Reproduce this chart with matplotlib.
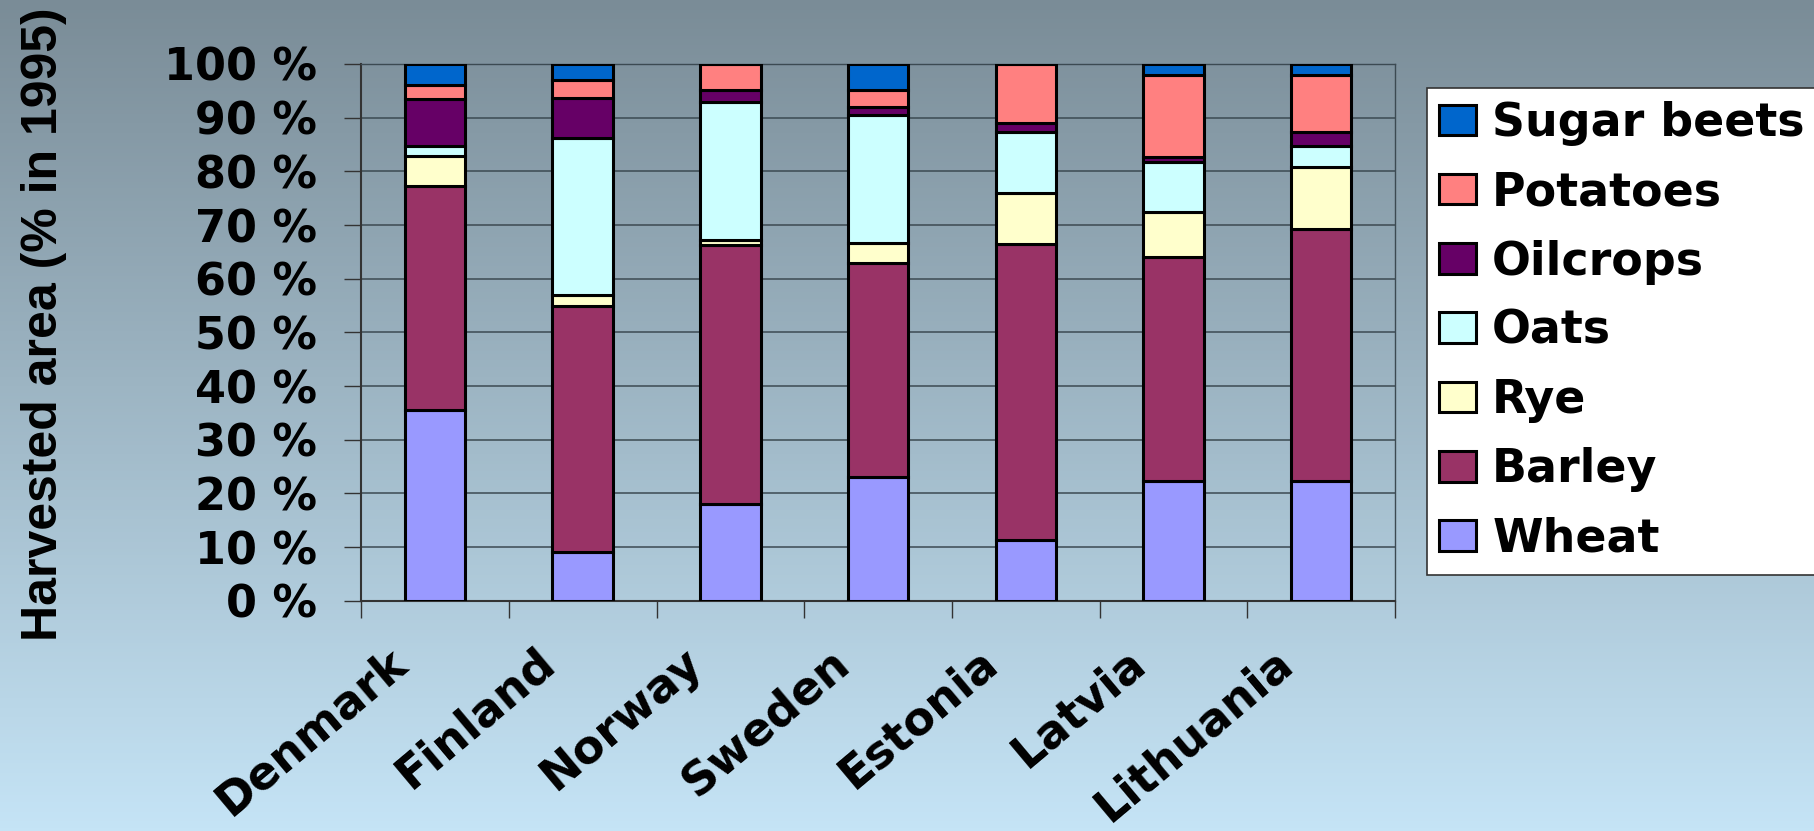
import numpy as np
import matplotlib.pyplot as plt
import matplotlib.transforms as mtransforms

# harvested area shares (%) per country, 1995
countries = ['Denmark', 'Finland', 'Norway', 'Sweden', 'Estonia', 'Latvia', 'Lithuania']
wheat = [35.6, 9.0, 18.1, 23.0, 11.3, 22.4, 22.4]
barley = [41.6, 45.9, 48.1, 40.0, 55.1, 41.7, 46.8]
rye = [5.6, 2.0, 1.0, 3.6, 9.5, 8.3, 11.6]
oats = [1.9, 29.3, 25.7, 23.9, 11.4, 9.3, 4.0]
oilcrops = [8.8, 7.5, 2.2, 1.4, 1.8, 0.9, 2.5]
potatoes = [2.6, 3.4, 4.9, 3.2, 10.9, 15.4, 10.6]
sugar_beets = [3.9, 2.9, 0.0, 4.9, 0.0, 2.0, 2.1]

crops = ['Wheat', 'Barley', 'Rye', 'Oats', 'Oilcrops', 'Potatoes', 'Sugar beets']
series = [wheat, barley, rye, oats, oilcrops, potatoes, sugar_beets]
colors = ['#9999FF', '#993366', '#FFFFCC', '#CCFFFF', '#660066', '#FF8080', '#0066CC']

fig = plt.figure(figsize=(18.15, 8.31), dpi=100)

# gradient backdrop
bg = fig.add_axes([0, 0, 1, 1], zorder=-10)
grad = np.linspace(0, 1, 256)[:, None]
top = np.array([0x7a, 0x8c, 0x97]) / 255
bottom = np.array([0xc5, 0xe4, 0xf6]) / 255
img = top[None, None, :] * (1 - grad[:, :, None]) + bottom[None, None, :] * grad[:, :, None]
bg.imshow(img, aspect='auto', extent=[0, 1, 0, 1])
bg.axis('off')

ax = fig.add_axes([0.199, 0.277, 0.5696, 0.646])
ax.set_facecolor('none')

x = np.arange(len(countries))
base = np.zeros(len(countries))
for name, vals, col in zip(crops, series, colors):
    ax.bar(x, vals, 0.41, bottom=base, color=col, edgecolor='black',
           linewidth=2.2, label=name, zorder=3)
    base += np.array(vals)

ax.set_xlim(-0.5, len(countries) - 0.5)
ax.set_ylim(0, 100)
ax.set_yticks(np.arange(0, 101, 10))
ax.set_yticklabels([f'{v} %' for v in range(0, 101, 10)])
ax.yaxis.grid(True, color='#3c4a52', linewidth=1.1, zorder=0)

for s in ['top', 'right']:
    ax.spines[s].set_color('#3c4a52')
    ax.spines[s].set_linewidth(1.0)
for s in ['left', 'bottom']:
    ax.spines[s].set_color('#333333')
    ax.spines[s].set_linewidth(1.5)

ax.tick_params(axis='y', length=12, width=1, color='#333333', pad=20,
               labelsize=32)
for lab in ax.get_yticklabels():
    lab.set_fontweight('bold')
    lab.set_family('DejaVu Sans')

# category ticks between bars, labels under bar centres
ax.set_xticks(x)
ax.set_xticks(np.arange(-0.5, len(countries), 1), minor=True)
ax.tick_params(axis='x', which='major', length=0, pad=28)
ax.tick_params(axis='x', which='minor', length=12, width=1, color='#333333')
ax.set_xticklabels(countries, rotation=40, ha='right', va='top',
                   rotation_mode='anchor', fontsize=33, fontweight='bold',
                   family='DejaVu Sans')
shift = mtransforms.ScaledTranslation(-0.48, 0, fig.dpi_scale_trans)
for lab in ax.get_xticklabels():
    lab.set_transform(lab.get_transform() + shift)

ax.set_ylabel('Harvested area (% in 1995)', fontsize=36, fontweight='bold',
              family='Liberation Sans')
ax.yaxis.set_label_coords(-0.285, 0.515)

handles, labels = ax.get_legend_handles_labels()
leg = fig.legend(handles[::-1], labels[::-1], loc='upper left',
                 bbox_to_anchor=(0.786, 0.894), frameon=True, fancybox=False,
                 prop={'family': 'DejaVu Sans', 'weight': 'bold', 'size': 33},
                 handlelength=0.8, handleheight=0.65, handletextpad=0.35,
                 labelspacing=0.53, borderpad=0.28, borderaxespad=0)
leg.get_frame().set_facecolor('white')
leg.get_frame().set_edgecolor('#333333')
leg.get_frame().set_linewidth(1.2)
leg.get_frame().set_alpha(1)

fig.savefig('out.png', dpi=100)
